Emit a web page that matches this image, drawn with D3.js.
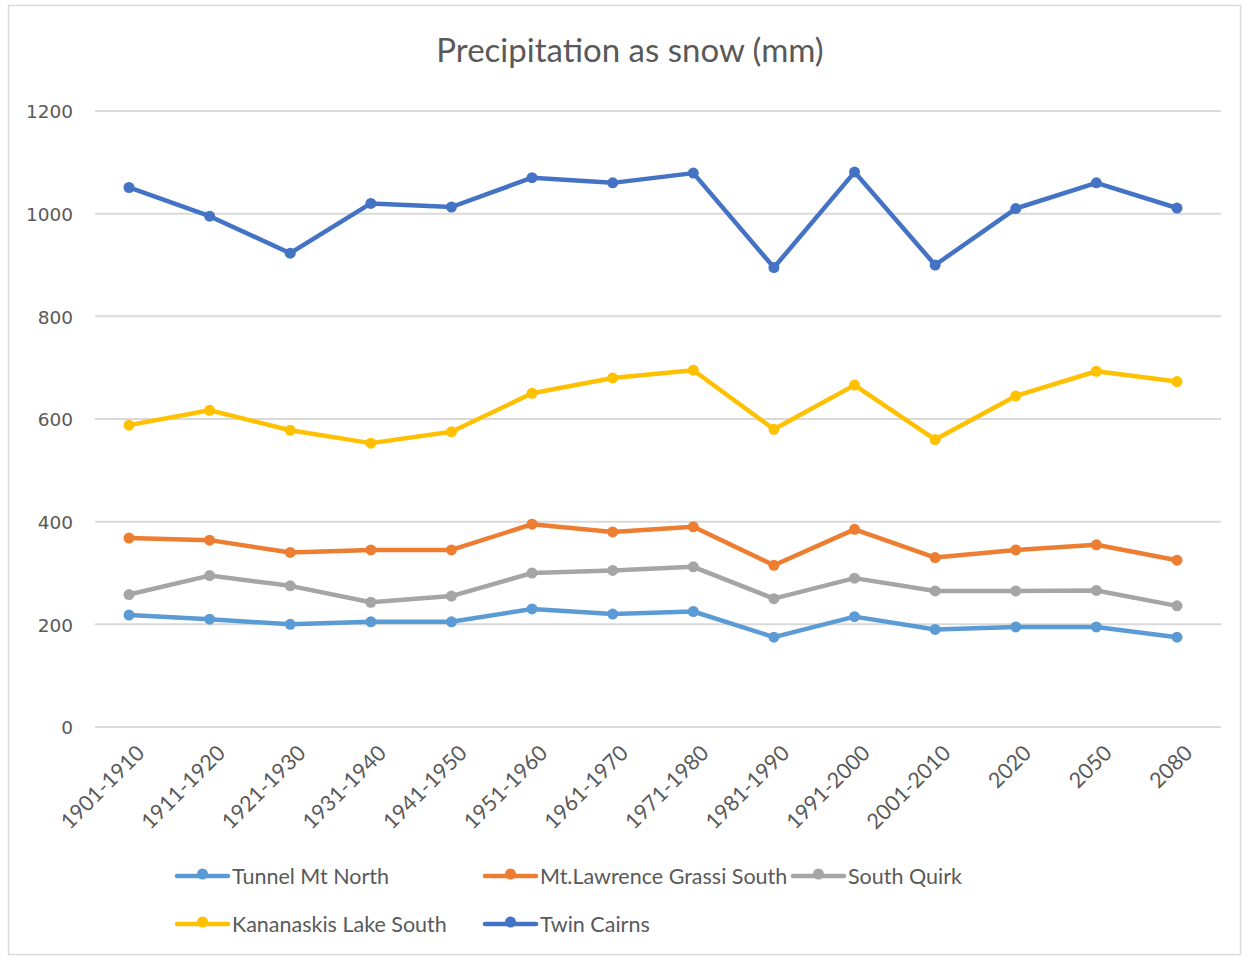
<!DOCTYPE html>
<html><head><meta charset="utf-8">
<script src="https://cdn.jsdelivr.net/npm/d3@7"></script>
<style>body{margin:0;background:#fff;}svg{display:block;}</style>
</head><body>
<svg id="chart" width="1249" height="958"></svg>
<script>
const categories = ["1901-1910","1911-1920","1921-1930","1931-1940","1941-1950","1951-1960","1961-1970","1971-1980","1981-1990","1991-2000","2001-2010","2020","2050","2080"];
const tunnelMtNorth = [218,210,200,205,205,230,220,225,175,215,190,195,195,175];
const mtLawrenceGrassiSouth = [368,364,340,345,345,395,380,390,315,385,330,345,355,325];
const southQuirk = [258,295,275,243,255,300,305,312,250,290,265,265,266,236];
const kananaskisLakeSouth = [588,617,578,553,575,650,680,695,580,666,560,645,693,673];
const twinCairns = [1051,995,923,1020,1013,1070,1060,1079,895,1081,900,1010,1060,1011];
const yTicks = [0,200,400,600,800,1000,1200];
const seriesNames = ["Tunnel Mt North","Mt.Lawrence Grassi South","South Quirk","Kananaskis Lake South","Twin Cairns"];
const seriesColors = ["#5B9BD5","#ED7D31","#A5A5A5","#FFC000","#4472C4"];
const seriesValues = [tunnelMtNorth, mtLawrenceGrassiSouth, southQuirk, kananaskisLakeSouth, twinCairns];

const svg = d3.select("#chart");
const textColor = "#595959";

// outer frame
svg.append("rect").attr("x",8.5).attr("y",5.5).attr("width",1232).attr("height",949)
  .attr("fill","#fff").attr("stroke","#d9d9d9").attr("stroke-width",1.5);

const plotLeft = 95, plotRight = 1221;
const x = d3.scalePoint().domain(categories).range([88.7, 1217.3]).padding(0.5);
const y = d3.scaleLinear().domain([0,1200]).range([727,111]);

// title
svg.append("text").attr("x",630).attr("y",62).attr("text-anchor","middle")
  .attr("font-family","Lato, 'Open Sans', sans-serif").attr("font-size",33).attr("fill",textColor)
  .text("Precipitation as snow (mm)");

// gridlines
const grid = svg.append("g");
grid.selectAll("line").data(yTicks).join("line")
  .attr("x1",plotLeft).attr("x2",plotRight)
  .attr("y1",d=>y(d)).attr("y2",d=>y(d))
  .attr("stroke","#d9d9d9").attr("stroke-width",2);

// y axis
const yAxis = d3.axisLeft(y).tickValues(yTicks).tickFormat(d3.format("d")).tickSize(0).tickPadding(0);
const yg = svg.append("g").attr("transform","translate(73,0)").call(yAxis);
yg.select(".domain").remove();
yg.selectAll("text").attr("font-family","'DejaVu Sans', Verdana, sans-serif").attr("font-size",18.5)
  .attr("fill",textColor).attr("dy","0.36em");

// x axis
const xAxis = d3.axisBottom(x).tickSize(0).tickPadding(0);
const xg = svg.append("g").attr("transform","translate(0,727)").call(xAxis);
xg.select(".domain").remove();
xg.selectAll("text").attr("font-family","Lato, 'Open Sans', sans-serif").attr("font-size",21.5)
  .attr("fill",textColor).attr("text-anchor","end")
  .attr("transform","translate(11,22) rotate(-45)").attr("dy","0.35em").attr("y",0);

// lines
const line = d3.line().x((d,i)=>x(categories[i])).y(d=>y(d));
seriesValues.forEach((vals,si)=>{
  const g = svg.append("g");
  g.append("path").datum(vals).attr("d",line).attr("fill","none")
    .attr("stroke",seriesColors[si]).attr("stroke-width",4.5).attr("stroke-linejoin","round").attr("stroke-linecap","round");
  g.selectAll("circle").data(vals).join("circle")
    .attr("cx",(d,i)=>x(categories[i])).attr("cy",d=>y(d)).attr("r",5.5)
    .attr("fill",seriesColors[si]);
});

// legend
const legendPos = [[177,876],[485,876],[793,876],[177,924],[485,924]];
seriesNames.forEach((name,i)=>{
  const [lx,ly] = legendPos[i];
  const g = svg.append("g").attr("transform",`translate(${lx},${ly})`);
  g.append("line").attr("x1",0).attr("x2",51).attr("y1",0).attr("y2",0)
    .attr("stroke",seriesColors[i]).attr("stroke-width",4.5).attr("stroke-linecap","round");
  g.append("circle").attr("cx",25.5).attr("cy",-2).attr("r",5.5).attr("fill",seriesColors[i]);
  g.append("text").attr("x",55).attr("y",0).attr("dy","0.35em")
    .attr("font-family","Lato, 'Open Sans', sans-serif").attr("font-size",21.5).attr("fill",textColor)
    .text(name);
});
</script>
</body></html>
